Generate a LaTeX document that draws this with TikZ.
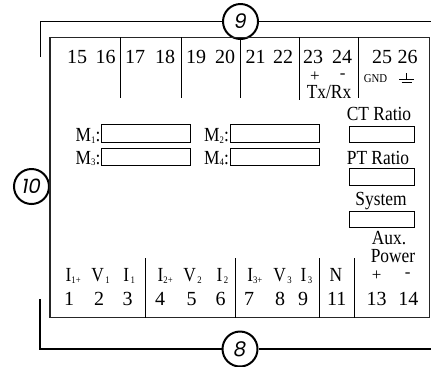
\documentclass[tikz,border=0pt]{standalone}
\usepackage{fontspec}
\setmainfont{Liberation Serif}
\newfontfamily\circfont{Poppins}
\newcommand{\lsub}[2]{#1\raisebox{-0.7pt}{\fontsize{5}{5}\selectfont #2}}

\begin{document}
\begin{tikzpicture}[x=0.5pt,y=-0.5pt,line width=0.7pt,
    every node/.style={inner sep=0pt,font=\fontsize{10}{12}\selectfont},
    num/.style={anchor=base},
    word/.style={anchor=base,xscale=0.87},
    sign/.style={font=\fontsize{8.5}{8.5}\selectfont},
    numcirc/.style={circle,draw,line width=1pt,minimum size=17.5pt,
        font=\circfont\itshape\fontsize{10}{10}\selectfont},
    thin/.style={line width=0.5pt}]
    \useasboundingbox (0,0) rectangle (431,366);

    % outline brackets
    \node[numcirc] (nine) at (240.5,21.5) {9};
    \node[numcirc] (eight) at (240,349) {8};
    \node[numcirc] (ten) at (31.5,186.5) {10};
    \coordinate (tl) at (40.7,57);
    \coordinate (tr) at (431,21.5);
    \coordinate (bl) at (40,299);
    \coordinate (br) at (431,349);
    \draw (tl) |- (nine.west);
    \draw (nine.east) -- (tr);
    \draw (bl) |- (eight.west);
    \draw (eight.east) -- (br);

    % meter body
    \draw[black!85] (50,37.3) rectangle (429.3,317.7);

    % top terminals
    \draw[thin] (120.7,37.3) -- (120.7,98);
    \draw[thin] (181.7,37.3) -- (181.7,98);
    \draw[thin] (nine.south) -- (240.5,98);
    \draw[thin] (299.3,37.3) -- (299.3,100);
    \draw[thin] (358.3,37.3) -- (358.3,98);
    \node[num] (t15) at (77,63) {15};
    \node[num] (t16) at (105.5,63) {16};
    \node[num] (t17) at (135,63) {17};
    \node[num] (t18) at (165,63) {18};
    \node[num] (t19) at (196,63) {19};
    \node[num] (t20) at (225,63) {20};
    \node[num] (t21) at (255.5,63) {21};
    \node[num] (t22) at (283,63) {22};
    \node[num] (t23) at (313,63) {23};
    \node[num] (t24) at (342,63) {24};
    \node[num] (t25) at (382,63) {25};
    \node[num] (t26) at (407.5,63) {26};
    \node[sign] (txp) at (315,76.5) {+};
    \node[sign] (txm) at (342.7,76.5) {-};
    \node[word] (txrx) at (329,98.5) {Tx/Rx};
    \node[anchor=base,font=\fontsize{6}{6}\selectfont,xscale=0.9] (gnd) at (375.5,82.5) {GND};
    \draw[thin] (406.5,73) -- (406.5,79);
    \draw[thin] (399.3,79) -- (413.7,79);
    \draw[thin] (401.5,82.8) -- (411.5,82.8);

    % multifunction fields
    \draw[thin] (101.7,124.3) rectangle (190.7,142.3);
    \draw[thin] (230,124.3) rectangle (319.3,142.3);
    \draw[thin] (101.7,148.3) rectangle (190.7,165.7);
    \draw[thin] (230,148.3) rectangle (319.3,165.7);
    \node[word,anchor=base east] (m1) at (101,141.7) {\lsub{M}{1}:};
    \node[word,anchor=base east] (m2) at (229.5,141.7) {\lsub{M}{2}:};
    \node[word,anchor=base east] (m3) at (101,164.5) {\lsub{M}{3}:};
    \node[word,anchor=base east] (m4) at (229.5,164.5) {\lsub{M}{4}:};

    % ratio and system fields
    \node[word] (ct) at (379,120.5) {CT Ratio};
    \draw[thin] (349,126) rectangle (414,142.3);
    \node[word] (pt) at (378,164.5) {PT Ratio};
    \draw[thin] (349,168.3) rectangle (414,185);
    \node[word] (sys) at (381,205.5) {System};
    \draw[thin] (349,211) rectangle (414,227.3);
    \node[word] (aux) at (389,244) {Aux.};
    \node[word] (pwr) at (393,262) {Power};

    % bottom terminals
    \draw[thin] (145,258) -- (145,317.7);
    \draw[thin] (235.7,258) -- (235.7,317.7);
    \draw[thin] (319.3,258) -- (319.3,317.7);
    \draw[thin] (354,258) -- (354,317.7);
    \node[word,anchor=base west] (li1p) at (65,281.7) {\lsub{I}{1+}};
    \node[word,anchor=base west] (lv1) at (90.7,281.7) {\lsub{V}{\,1}};
    \node[word,anchor=base west] (li1) at (122.7,281.7) {\lsub{I}{\,1}};
    \node[word,anchor=base west] (li2p) at (157,281.7) {\lsub{I}{2+}};
    \node[word,anchor=base west] (lv2) at (182.7,281.7) {\lsub{V}{\,2}};
    \node[word,anchor=base west] (li2) at (216,281.7) {\lsub{I}{\,2}};
    \node[word,anchor=base west] (li3p) at (246.7,281.7) {\lsub{I}{3+}};
    \node[word,anchor=base west] (lv3) at (272.7,281.7) {\lsub{V}{\,3}};
    \node[word,anchor=base west] (li3) at (300,281.7) {\lsub{I}{\,3}};
    \node[word] (ln) at (336,281.7) {N};
    \node[sign] (pp) at (376.7,275.5) {+};
    \node[sign] (pm) at (407.7,275.5) {-};
    \node[num] (b1) at (69,305) {1};
    \node[num] (b2) at (99,305) {2};
    \node[num] (b3) at (127.5,305) {3};
    \node[num] (b4) at (160,305) {4};
    \node[num] (b5) at (191.7,305) {5};
    \node[num] (b6) at (220.7,305) {6};
    \node[num] (b7) at (249,305) {7};
    \node[num] (b8) at (280,305) {8};
    \node[num] (b9) at (303,305) {9};
    \node[num] (b11) at (336.7,305) {11};
    \node[num] (b13) at (376.7,305) {13};
    \node[num] (b14) at (408.3,305) {14};
\end{tikzpicture}
\end{document}
